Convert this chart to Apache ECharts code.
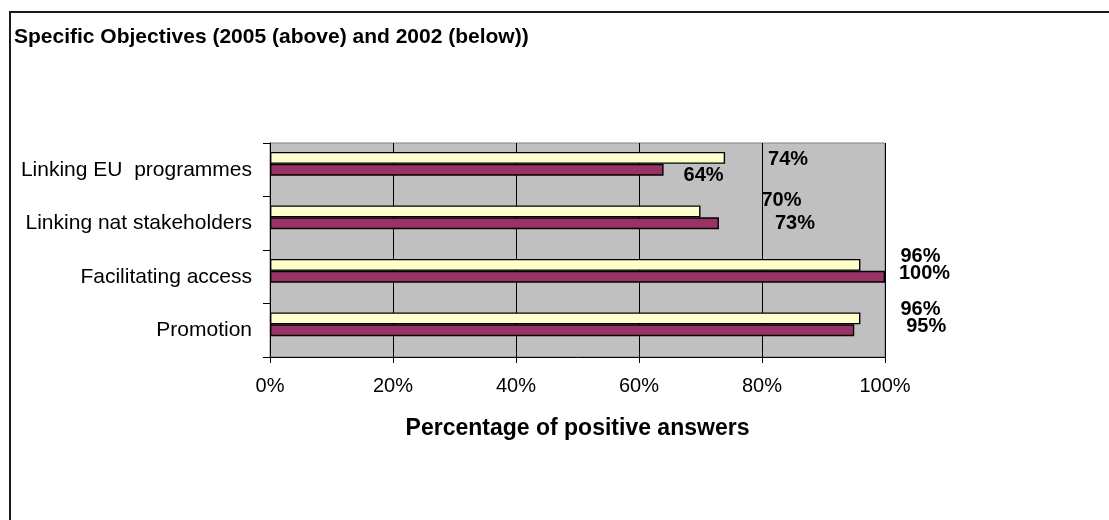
<!DOCTYPE html>
<html>
<head>
<meta charset="utf-8">
<title>Specific Objectives</title>
<script src="https://cdn.jsdelivr.net/npm/echarts@6/dist/echarts.min.js"></script>
<style>
  html, body { margin: 0; padding: 0; background: #fff; }
  #chart { width: 1109px; height: 520px; }
</style>
</head>
<body>
<div id="chart"></div>
<script>
// Objectives, listed bottom to top as the category axis runs
const categories = ['Promotion', 'Facilitating access', 'Linking nat stakeholders', 'Linking EU  programmes'];
// Share of positive answers (%)
const values2005 = [96, 96, 70, 74];
const values2002 = [95, 100, 73, 64];
const xTicks = [0, 20, 40, 60, 80, 100];

const FONT = "'Liberation Sans', Arial, sans-serif";

// The value labels were hand-placed around the bar ends; [dx, dy] nudges per bar
const shift2005 = [[40, -9], [40, -8.5], [61, -11], [43, 2]];
const shift2002 = [[52, -4], [14, -3], [56, 0], [20, 6]];

function withLabels(values, shifts) {
  return values.map((v, i) => ({ value: v, label: { offset: shifts[i] } }));
}

const valueLabel = {
  show: true,
  position: 'right',
  distance: 0,
  formatter: '{c}%',
  color: '#000',
  fontFamily: FONT,
  fontWeight: 'bold',
  fontSize: 20
};

const barLayout = { barGap: '0%', barCategoryGap: '33.3%' };

const chart = echarts.init(document.getElementById('chart'), null, { renderer: 'canvas' });

chart.setOption({
  animation: false,
  backgroundColor: '#ffffff',
  title: {
    text: 'Specific Objectives (2005 (above) and 2002 (below))',
    left: 14,
    top: 27,
    padding: 0,
    textStyle: { fontFamily: FONT, fontWeight: 'bold', fontSize: 21, color: '#000' }
  },
  graphic: [{
    type: 'rect',
    shape: { x: 10, y: 12, width: 1200, height: 600 },
    style: { fill: 'none', stroke: '#1a1a1a', lineWidth: 2 },
    silent: true
  }],
  grid: {
    left: 270, right: 224, top: 143, bottom: 163,
    show: true,
    backgroundColor: '#C0C0C0',
    borderColor: '#808080',
    borderWidth: 1
  },
  xAxis: {
    type: 'value',
    min: xTicks[0],
    max: xTicks[xTicks.length - 1],
    interval: xTicks[1] - xTicks[0],
    name: 'Percentage of positive answers',
    nameLocation: 'middle',
    nameGap: 60,
    nameTextStyle: { fontFamily: FONT, fontWeight: 'bold', fontSize: 23, color: '#000', verticalAlign: 'top' },
    axisLine: { show: true, lineStyle: { color: '#000', width: 1 } },
    axisTick: { show: true, length: 6, lineStyle: { color: '#000' } },
    axisLabel: { formatter: '{value}%', margin: 19, fontFamily: FONT, fontSize: 20, color: '#000' },
    splitLine: { show: true, lineStyle: { color: '#000', width: 1 } }
  },
  yAxis: {
    type: 'category',
    data: categories,
    axisLine: { show: true, lineStyle: { color: '#000', width: 1 } },
    axisTick: { show: true, length: 7, lineStyle: { color: '#000' } },
    axisLabel: { margin: 18, fontFamily: FONT, fontSize: 21, color: '#000' },
    splitLine: { show: false }
  },
  series: [
    Object.assign({
      name: '2005',
      type: 'bar',
      data: withLabels(values2005, shift2005),
      itemStyle: { color: '#FFFFCC', borderColor: '#000', borderWidth: 1.4 },
      label: valueLabel
    }, barLayout),
    Object.assign({
      name: '2002',
      type: 'bar',
      data: withLabels(values2002, shift2002),
      itemStyle: { color: '#993366', borderColor: '#000', borderWidth: 1.4 },
      label: valueLabel
    }, barLayout),
    Object.assign({
      // empty third slot keeps the bar pair sitting high in each band
      name: 'spacer',
      type: 'bar',
      data: categories.map(() => null),
      silent: true
    }, barLayout)
  ]
});
</script>
</body>
</html>
